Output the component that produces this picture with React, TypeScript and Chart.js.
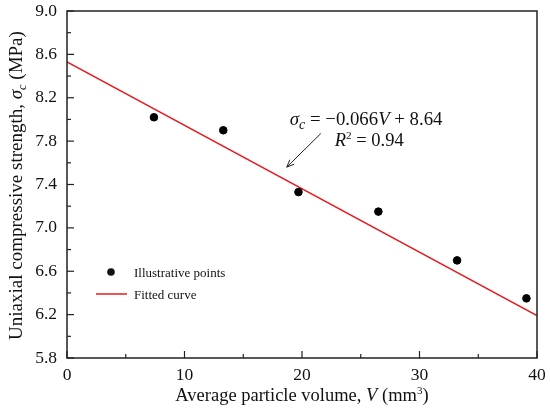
import { useEffect, useRef } from "react";
import { Chart, registerables } from "chart.js";

Chart.register(...registerables);

// data
const volumes = [7.4, 13.3, 19.7, 26.5, 33.2, 39.1];
const strengths = [8.02, 7.9, 7.33, 7.15, 6.7, 6.35];
const fitX = [0, 40];
const fitY = [8.53, 6.19];
const xTicks = [0, 10, 20, 30, 40];
const yTicks = [5.8, 6.2, 6.6, 7.0, 7.4, 7.8, 8.2, 8.6, 9.0];

const SERIF = '"Liberation Serif", "Times New Roman", serif';

// draws a run of text pieces: [text, italic, baselineShift, sizeFactor]
function drawRuns(ctx, runs, x, y, size) {
  let cx = x;
  runs.forEach(([t, it, dy, f]) => {
    const s = size * (f || 1);
    ctx.font = `${it ? "italic " : ""}${s}px ${SERIF}`;
    ctx.fillText(t, cx, y + (dy || 0));
    cx += ctx.measureText(t).width;
  });
  return cx - x;
}

function runsWidth(ctx, runs, size) {
  let w = 0;
  runs.forEach(([t, it, , f]) => {
    ctx.font = `${it ? "italic " : ""}${size * (f || 1)}px ${SERIF}`;
    w += ctx.measureText(t).width;
  });
  return w;
}

const framePlugin = {
  id: "frame",
  afterDraw(chart) {
    const { ctx, chartArea: a, scales } = chart;
    const xs = scales.x;
    const ys = scales.y;
    ctx.save();
    ctx.strokeStyle = "#222";
    ctx.lineWidth = 1.5;
    ctx.strokeRect(a.left, a.top, a.right - a.left, a.bottom - a.top);

    // inward ticks, major + minor
    ctx.lineWidth = 1.2;
    for (let v = 0; v <= 40; v += 5) {
      const px = xs.getPixelForValue(v);
      const len = v % 10 === 0 ? 7 : 4;
      ctx.beginPath();
      ctx.moveTo(px, a.bottom);
      ctx.lineTo(px, a.bottom - len);
      ctx.stroke();
    }
    for (let i = 0; i <= 16; i++) {
      const v = 5.8 + i * 0.2;
      const py = ys.getPixelForValue(v);
      const len = i % 2 === 0 ? 7 : 4;
      ctx.beginPath();
      ctx.moveTo(a.left, py);
      ctx.lineTo(a.left + len, py);
      ctx.stroke();
    }

    ctx.fillStyle = "#111";
    ctx.textBaseline = "alphabetic";

    // x axis title
    const xRuns = [
      ["Average particle volume, ", false],
      ["V", true],
      [" (mm", false],
      ["3", false, -7, 0.6],
      [")", false],
    ];
    let w = runsWidth(ctx, xRuns, 18.5);
    drawRuns(ctx, xRuns, (a.left + a.right) / 2 - w / 2, 401, 18.5);

    // y axis title
    const yRuns = [
      ["Uniaxial compressive strength, ", false],
      ["σ", true],
      ["c", true, 4, 0.65],
      [" (MPa)", false],
    ];
    w = runsWidth(ctx, yRuns, 19);
    ctx.save();
    ctx.translate(22, (a.top + a.bottom) / 2 + 1);
    ctx.rotate(-Math.PI / 2);
    drawRuns(ctx, yRuns, -w / 2, 0, 19);
    ctx.restore();

    // legend
    ctx.beginPath();
    ctx.arc(111, 272, 3.8, 0, Math.PI * 2);
    ctx.fill();
    ctx.font = `13px ${SERIF}`;
    ctx.fillText("Illustrative points", 134, 277);
    ctx.strokeStyle = "#e8191c";
    ctx.lineWidth = 1.5;
    ctx.beginPath();
    ctx.moveTo(96, 294);
    ctx.lineTo(127, 294);
    ctx.stroke();
    ctx.fillText("Fitted curve", 134, 299);

    // equation annotation with arrow
    const tipX = xs.getPixelForValue(18.7);
    const tipY = ys.getPixelForValue(7.56);
    const tailX = xs.getPixelForValue(21.6);
    const tailY = ys.getPixelForValue(7.87);
    ctx.strokeStyle = "#222";
    ctx.lineWidth = 1;
    ctx.beginPath();
    ctx.moveTo(tailX, tailY);
    ctx.lineTo(tipX, tipY);
    const ang = Math.atan2(tipY - tailY, tipX - tailX);
    ctx.moveTo(tipX - 8 * Math.cos(ang - 0.4), tipY - 8 * Math.sin(ang - 0.4));
    ctx.lineTo(tipX, tipY);
    ctx.lineTo(tipX - 8 * Math.cos(ang + 0.4), tipY - 8 * Math.sin(ang + 0.4));
    ctx.stroke();

    drawRuns(
      ctx,
      [
        ["σ", true],
        ["c", true, 4, 0.75],
        [" = −0.066", false],
        ["V", true],
        [" + 8.64", false],
      ],
      tailX - 31,
      tailY - 9,
      18.8
    );
    drawRuns(
      ctx,
      [
        ["R", true],
        ["2", false, -7, 0.6],
        [" = 0.94", false],
      ],
      tailX + 14,
      tailY + 12,
      18.5
    );
    ctx.restore();
  },
};

export default function App() {
  const canvasRef = useRef<HTMLCanvasElement | null>(null);
  const chartRef = useRef<Chart | null>(null);

  useEffect(() => {
    document.body.style.margin = "0";
    if (!canvasRef.current) return;
    if (chartRef.current) chartRef.current.destroy();

    chartRef.current = new Chart(canvasRef.current, {
      type: "scatter",
      data: {
        datasets: [
          {
            label: "Illustrative points",
            data: volumes.map((v, i) => ({ x: v, y: strengths[i] })),
            backgroundColor: "#000",
            borderColor: "#000",
            pointRadius: 3.8,
          },
          {
            type: "line",
            label: "Fitted curve",
            data: fitX.map((v, i) => ({ x: v, y: fitY[i] })),
            borderColor: "#e8191c",
            borderWidth: 1.5,
            pointRadius: 0,
            fill: false,
          },
        ],
      },
      options: {
        responsive: false,
        animation: false,
        layout: { padding: { top: 11, right: 13, left: 0, bottom: 0 } },
        plugins: {
          legend: { display: false },
          tooltip: { enabled: false },
        },
        scales: {
          x: {
            type: "linear",
            min: 0,
            max: 40,
            afterBuildTicks: (s) => {
              s.ticks = xTicks.map((v) => ({ value: v }));
            },
            afterFit: (s) => {
              s.height = 52;
              s.paddingLeft = 0;
              s.paddingRight = 0;
            },
            grid: { display: false, drawTicks: false },
            border: { display: false },
            ticks: {
              color: "#111",
              padding: 7,
              font: { family: SERIF, size: 17.5 },
            },
          },
          y: {
            min: 5.8,
            max: 9.0,
            afterBuildTicks: (s) => {
              s.ticks = yTicks.map((v) => ({ value: v }));
            },
            afterFit: (s) => {
              s.width = 67;
              s.paddingTop = 0;
              s.paddingBottom = 0;
            },
            grid: { display: false, drawTicks: false },
            border: { display: false },
            ticks: {
              color: "#111",
              padding: 10,
              font: { family: SERIF, size: 17.5 },
              callback: (v) => Number(v).toFixed(1),
            },
          },
        },
      },
      plugins: [framePlugin],
    });

    return () => {
      if (chartRef.current) {
        chartRef.current.destroy();
        chartRef.current = null;
      }
    };
  }, []);

  return (
    <div style={{ position: "absolute", left: 0, top: 0, width: 550, height: 410, background: "#fff" }}>
      <canvas ref={canvasRef} width={550} height={410}></canvas>
    </div>
  );
}
